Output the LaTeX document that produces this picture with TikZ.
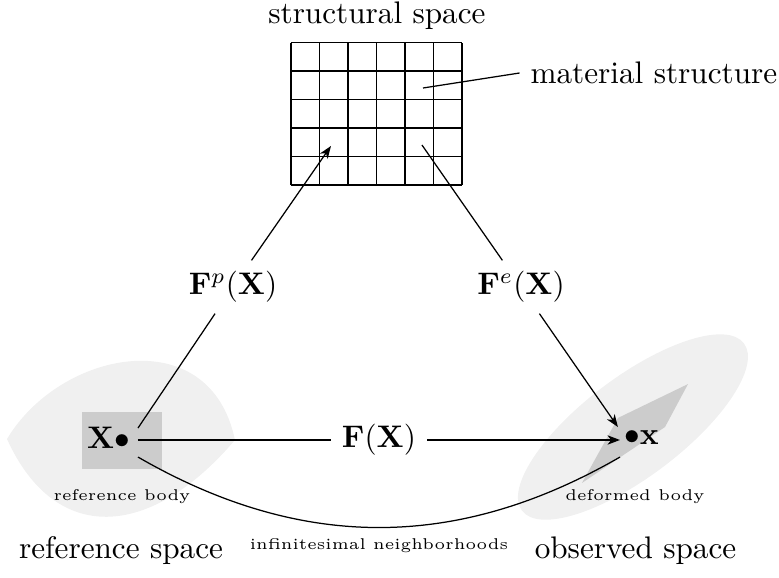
\documentclass[tikz,border=0pt]{standalone}
\usepackage{amsmath}
\usetikzlibrary{arrows.meta}
\definecolor{bodylight}{HTML}{F0F0F0}
\definecolor{bodydark}{HTML}{CCCCCC}
\begin{document}
\begin{tikzpicture}[every node/.style={text=black},note/.style={font=\tiny},>={Stealth[length=4pt,width=3pt,inset=1.2pt]}]
\useasboundingbox (0,0) rectangle (8.773,6.498);
% Bodies: light region for the body, dark patch for the neighbourhood of the point.
\fill[bodylight] (0.079,1.554) .. controls (0.676,2.556) and (2.365,2.894) .. (2.646,1.543) .. controls (1.689,0.417) and (0.619,0.360) .. cycle;
\fill[bodydark] (0.923,1.216) rectangle (1.824,1.858);
\fill[bodylight,rotate around={37:(7.128,1.689)}] (7.128,1.689) ellipse (1.565 and 0.563);
\fill[bodydark] (7.748,2.173) -- (6.959,1.791) -- (6.554,1.059) -- (7.489,1.689) -- cycle;
% Structural space: a 6 x 5 lattice.
\foreach \i in {0,...,6}{\draw (3.277+0.321*\i,4.414) -- ++(0,1.605);}
\foreach \j in {0,...,5}{\draw (3.277,4.414+0.321*\j) -- ++(1.926,0);}
\node (structlbl) at (4.245,6.318) {structural space};
\node[anchor=west] (matlbl) at (5.851,5.676) {material structure};
\coordinate (gridM) at (4.764,5.507);
\coordinate (gridP) at (3.727,4.854);
\coordinate (gridE) at (4.752,4.865);
% Maps between the spaces.
\node (Fp) at (2.624,3.266) {$\mathbf{F}^p(\mathbf{X})$};
\node (Fe) at (5.867,3.266) {$\mathbf{F}^e(\mathbf{X})$};
\node (FX) at (4.268,1.543) {$\mathbf{F}(\mathbf{X})$};
\node (Xref) at (1.222,1.573) {$\mathbf{X}\bullet$};
\node (xdef) at (7.224,1.573) {$\bullet\mathbf{x}$};
\coordinate (XA) at (1.554,1.678);
\coordinate (XB) at (1.554,1.543);
\coordinate (XC) at (1.554,1.351);
\coordinate (xA) at (6.959,1.689);
\coordinate (xB) at (6.982,1.543);
\coordinate (xC) at (6.982,1.351);
\draw (gridM) -- (matlbl.west);
\draw[->] (Fp) -- (gridP);
\draw (Fe) -- (gridE);
\draw (Fp) -- (XA);
\draw[->] (Fe) -- (xA);
\draw (XB) -- (FX);
\draw[->] (FX) -- (xB);
\draw (XC) to[bend right=30] node[below,note] (nbhd) {infinitesimal neighborhoods} (xC);
% Labels of bodies and spaces.
\node[note] (refbody) at (1.374,0.901) {reference body};
\node[note] (defbody) at (7.151,0.901) {deformed body};
\node (refspace) at (1.363,0.293) {reference space};
\node (obsspace) at (7.157,0.293) {observed space};
\end{tikzpicture}
\end{document}
